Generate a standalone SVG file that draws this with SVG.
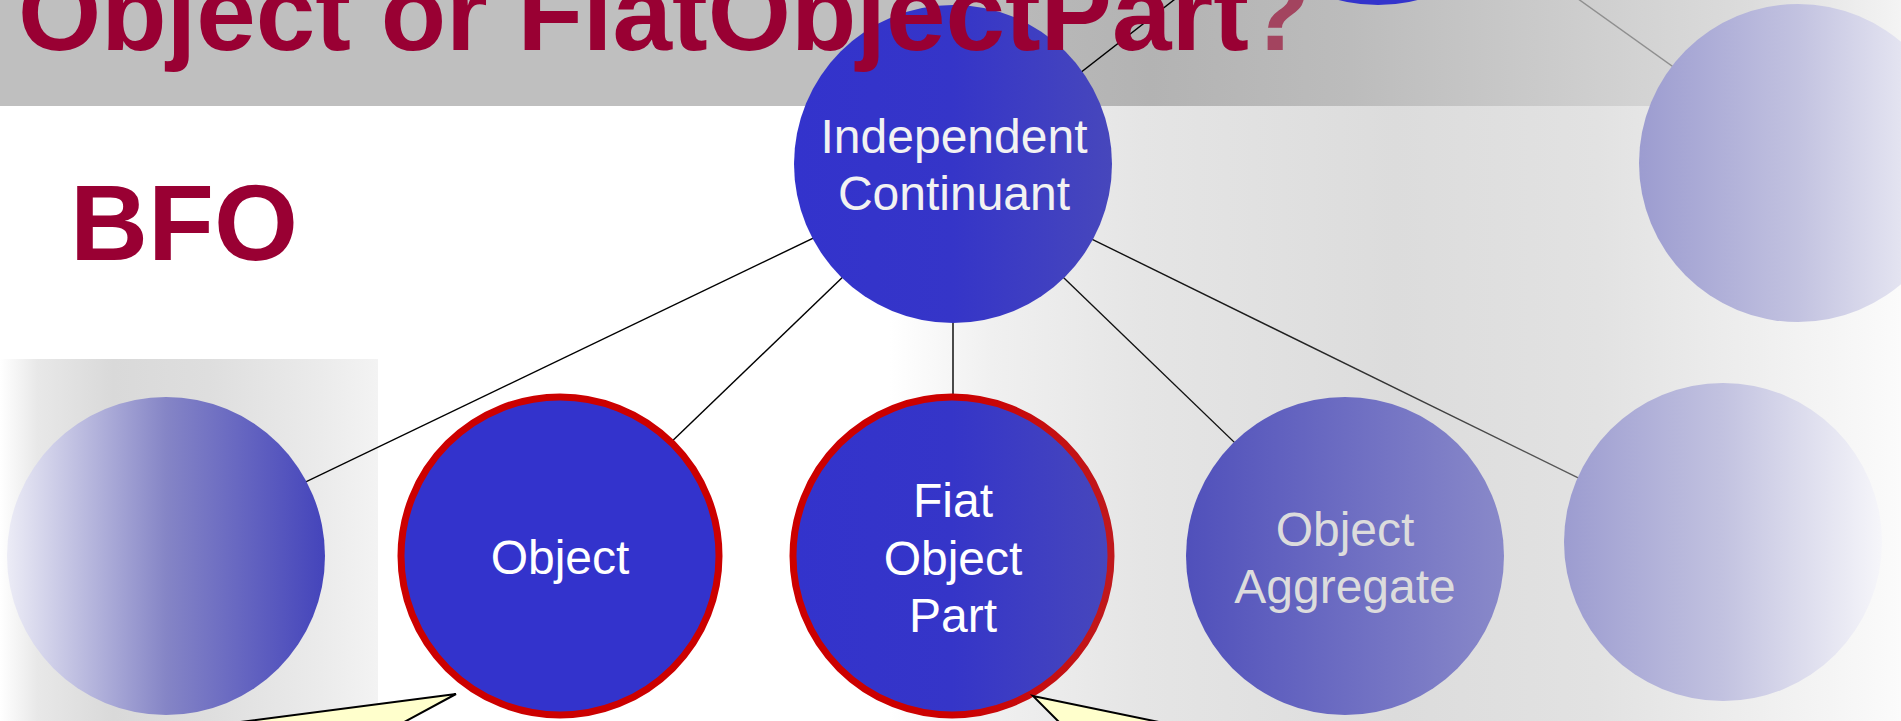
<svg xmlns="http://www.w3.org/2000/svg" width="1901" height="721" viewBox="0 0 1901 721">
  <defs>
    <style>
      .title { font-family: "Liberation Sans", Arial, sans-serif; font-weight: bold; fill: #990033; }
      .label { font-family: "Liberation Sans", Arial, sans-serif; font-size: 48px; text-anchor: middle; fill: #ffffff; }
      .label-dim { fill: #dcdcdc; }
      .edge { fill: none; stroke: #000000; stroke-width: 1.4; }
      .callout { fill: #ffffcc; stroke: #000000; stroke-width: 2; stroke-linejoin: miter; }
      .ring { stroke: #cc0000; stroke-width: 7; }
    </style>
    <!-- backdrop shading -->
    <linearGradient id="bandShade" gradientUnits="userSpaceOnUse" x1="900" y1="0" x2="1901" y2="0">
      <stop offset="0" stop-color="#bfbfbf"/>
      <stop offset="0.25" stop-color="#b3b3b3"/>
      <stop offset="0.45" stop-color="#bcbcbc"/>
      <stop offset="0.65" stop-color="#cbcbcb"/>
      <stop offset="0.85" stop-color="#dcdcdc"/>
      <stop offset="1" stop-color="#f4f4f4"/>
    </linearGradient>
    <linearGradient id="fieldShade" gradientUnits="userSpaceOnUse" x1="890" y1="0" x2="1901" y2="0">
      <stop offset="0" stop-color="#ffffff"/>
      <stop offset="0.1" stop-color="#f0f0f0"/>
      <stop offset="0.25" stop-color="#e5e5e5"/>
      <stop offset="0.5" stop-color="#dcdcdc"/>
      <stop offset="0.7" stop-color="#e2e2e2"/>
      <stop offset="0.85" stop-color="#eeeeee"/>
      <stop offset="1" stop-color="#fbfbfb"/>
    </linearGradient>
    <linearGradient id="cornerShade" gradientUnits="userSpaceOnUse" x1="0" y1="0" x2="378" y2="0">
      <stop offset="0" stop-color="#ffffff"/>
      <stop offset="0.1" stop-color="#e8e8e8"/>
      <stop offset="0.3" stop-color="#d9d9d9"/>
      <stop offset="0.55" stop-color="#dedede"/>
      <stop offset="0.85" stop-color="#ebebeb"/>
      <stop offset="1" stop-color="#f3f3f3"/>
    </linearGradient>
    <!-- node fills -->
    <linearGradient id="blueFill" x1="0" y1="0" x2="1" y2="0">
      <stop offset="0" stop-color="#3333cc"/>
      <stop offset="0.5" stop-color="#3535c8"/>
      <stop offset="1" stop-color="#4747bc"/>
    </linearGradient>
    <linearGradient id="redRing" x1="0" y1="0" x2="1" y2="0">
      <stop offset="0" stop-color="#cc0000"/>
      <stop offset="0.5" stop-color="#cc0000"/>
      <stop offset="1" stop-color="#c0181c"/>
    </linearGradient>
    <linearGradient id="aggregateFill" x1="0" y1="0" x2="1" y2="0">
      <stop offset="0" stop-color="#5050bb"/>
      <stop offset="1" stop-color="#8989c9"/>
    </linearGradient>
    <linearGradient id="fadeRight" x1="0" y1="0" x2="1" y2="0">
      <stop offset="0" stop-color="#ececf6"/>
      <stop offset="0.5" stop-color="#8585c6"/>
      <stop offset="1" stop-color="#4444bb"/>
    </linearGradient>
    <linearGradient id="fadeLeft" x1="0" y1="0" x2="1" y2="0">
      <stop offset="0" stop-color="#9c9cd0"/>
      <stop offset="0.5" stop-color="#c2c2e0"/>
      <stop offset="1" stop-color="#f6f6fa"/>
    </linearGradient>
    <linearGradient id="edgeFade" gradientUnits="userSpaceOnUse" x1="953" y1="0" x2="1723" y2="0">
      <stop offset="0" stop-color="#000000"/>
      <stop offset="0.45" stop-color="#222222"/>
      <stop offset="1" stop-color="#7a7a7a"/>
    </linearGradient>
  </defs>

  <!-- backdrop -->
  <g id="backdrop">
    <rect x="0" y="0" width="1901" height="721" fill="#ffffff"/>
    <rect x="890" y="106" width="1011" height="615" fill="url(#fieldShade)"/>
    <rect x="0" y="359" width="378" height="362" fill="url(#cornerShade)"/>
    <rect x="0" y="0" width="1901" height="106" fill="#bfbfbf"/>
    <rect x="900" y="0" width="1001" height="106" fill="url(#bandShade)"/>
  </g>

  <!-- connectors -->
  <g id="connectors">
    <line class="edge" x1="953" y1="172" x2="1378" y2="-159"/>
    <line class="edge" x1="1378" y1="-144" x2="1798" y2="156" style="stroke:#8f8f8f"/>
    <line class="edge" x1="953" y1="171" x2="166" y2="549"/>
    <line class="edge" x1="953" y1="171" x2="560" y2="549"/>
    <line class="edge" x1="953" y1="171" x2="953" y2="549"/>
    <line class="edge" x1="953" y1="171" x2="1345" y2="549" style="stroke:#111111"/>
    <line class="edge" x1="953" y1="171" x2="1723" y2="549" style="stroke:url(#edgeFade)"/>
  </g>

  <!-- nodes -->
  <g id="node-continuant">
    <circle cx="1378" cy="-154" r="159" fill="#3333cc"/>
  </g>
  <g id="node-independent-continuant">
    <circle cx="953" cy="164" r="159" fill="url(#blueFill)"/>
    <text class="label" style="fill:#f2f2f2"><tspan x="954" y="153">Independent</tspan><tspan x="954" y="210">Continuant</tspan></text>
  </g>
  <g id="node-upper-right">
    <circle cx="1798" cy="163" r="159" fill="url(#fadeLeft)"/>
  </g>
  <g id="node-lower-left">
    <circle cx="166" cy="556" r="159" fill="url(#fadeRight)"/>
  </g>
  <g id="node-object">
    <circle class="ring" cx="560" cy="556" r="159" fill="#3333cc"/>
    <text class="label" x="560" y="574">Object</text>
  </g>
  <g id="node-fiat-object-part">
    <circle cx="952" cy="556" r="159" fill="url(#blueFill)" stroke="url(#redRing)" stroke-width="7"/>
    <text class="label"><tspan x="953" y="517">Fiat</tspan><tspan x="953" y="575">Object</tspan><tspan x="953" y="632">Part</tspan></text>
  </g>
  <g id="node-object-aggregate">
    <circle cx="1345" cy="556" r="159" fill="url(#aggregateFill)"/>
    <text class="label label-dim"><tspan x="1345" y="546">Object</tspan><tspan x="1345" y="603">Aggregate</tspan></text>
  </g>
  <g id="node-lower-right">
    <circle cx="1723" cy="542" r="159" fill="url(#fadeLeft)"/>
  </g>

  <!-- headings -->
  <g id="title">
    <text class="title" x="18" y="50" font-size="107">Object or FiatObjectPart<tspan dx="-4" style="fill:#a3445f">?</tspan></text>
    <text class="title" x="70" y="260" font-size="108">BFO</text>
  </g>

  <!-- speech-bubble pointers -->
  <g id="callout-object">
    <polygon class="callout" points="456,694 371,740 102,740"/>
  </g>
  <g id="callout-fiat-object-part">
    <polygon class="callout" points="1033,696 1246,740 1077,740"/>
  </g>
</svg>
